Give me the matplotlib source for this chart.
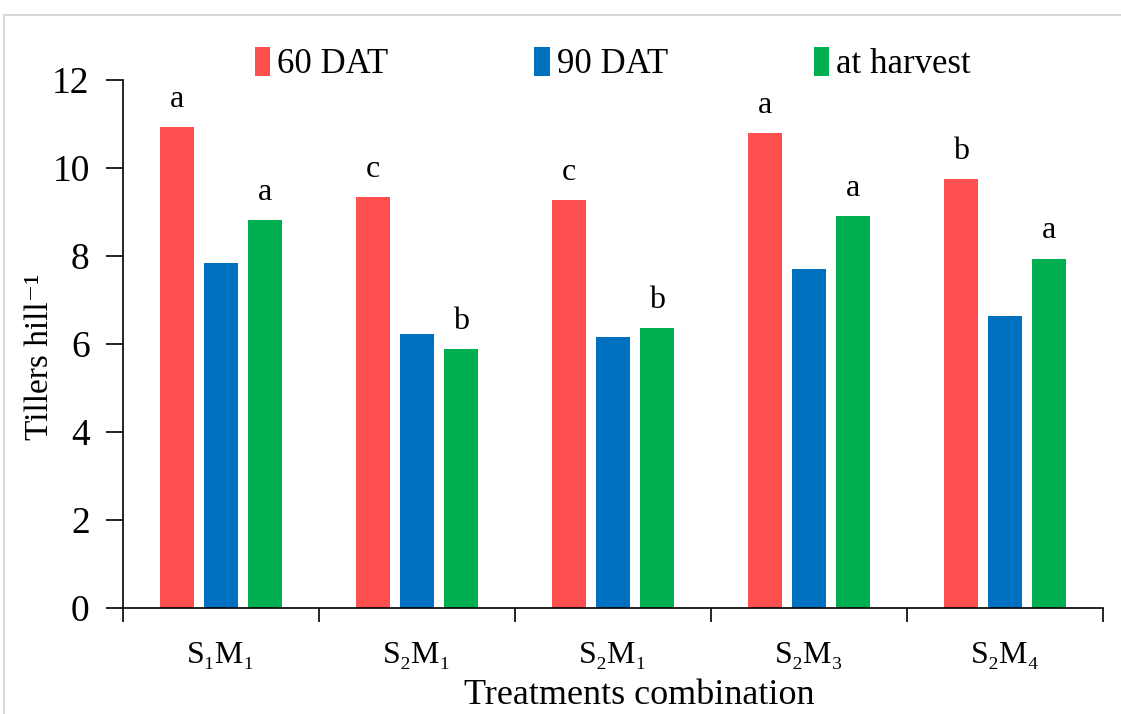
import matplotlib.pyplot as plt
import numpy as np
from matplotlib.patches import Rectangle

plt.rcParams['font.family'] = ['Liberation Serif', 'DejaVu Serif']

treatments = ['S\u2081M\u2081', 'S\u2082M\u2081', 'S\u2082M\u2081', 'S\u2082M\u2083', 'S\u2082M\u2084']
series = ['60 DAT', '90 DAT', 'at harvest']
dat60 = [10.93, 9.33, 9.27, 10.80, 9.74]
dat90 = [7.83, 6.23, 6.17, 7.70, 6.63]
harvest = [8.81, 5.89, 6.36, 8.91, 7.94]
letters60 = ['a', 'c', 'c', 'a', 'b']
letters_harvest = ['a', 'b', 'b', 'a', 'a']

colors = ['#FF5050', '#0070C0', '#00B050']

fig = plt.figure(figsize=(11.21, 7.14), dpi=100)
fig.patches.append(Rectangle((4 / 1121, -0.1), 1.2, 1 - 15 / 714 + 0.1, transform=fig.transFigure,
                             fill=False, edgecolor='#d9d9d9', linewidth=1.5))
ax = fig.add_axes([123 / 1121, 106 / 714, 980 / 1121, 528 / 714])

x = np.arange(len(treatments))
width = 0.175
step = 0.224
for i, (vals, c, lab) in enumerate(zip([dat60, dat90, harvest], colors, series)):
    ax.bar(x + (i - 1) * step, vals, width, color=c, label=lab)

for xi, v, l in zip(x, dat60, letters60):
    ax.text(xi - step, v + 0.3, l, ha='center', va='bottom', fontsize=23)
for xi, v, l in zip(x, harvest, letters_harvest):
    ax.text(xi + step, v + 0.3, l, ha='center', va='bottom', fontsize=23)

ax.set_xlim(-0.5, len(treatments) - 0.5)
ax.set_ylim(0, 12)
ax.set_yticks(range(0, 13, 2))
ax.set_xticks(np.arange(-0.5, len(treatments), 1.0))
ax.set_xticklabels([])
ax.set_xticks(x, minor=True)
ax.set_xticklabels(treatments, minor=True)
ax.tick_params(axis='x', which='major', length=10, width=1.2, direction='out')
ax.tick_params(axis='x', which='minor', length=0, labelsize=23, pad=24)
ax.tick_params(axis='y', length=12, width=1.2, direction='out', labelsize=27, pad=12)

for s in ['top', 'right']:
    ax.spines[s].set_visible(False)
ax.spines['left'].set_linewidth(1.2)
ax.spines['bottom'].set_linewidth(1.2)

ax.set_ylabel('Tillers hill\u207b\u00b9', fontsize=24, labelpad=-2, y=0.475)
ax.set_xlabel('Treatments combination', fontsize=26, labelpad=6, x=0.527)

ax.legend(loc='center', bbox_to_anchor=(0.5, 1.03), ncol=3, frameon=False, fontsize=25,
          handlelength=0.45, handleheight=0.9, handletextpad=0.2, columnspacing=4.2)

plt.savefig('out.png', dpi=100)
